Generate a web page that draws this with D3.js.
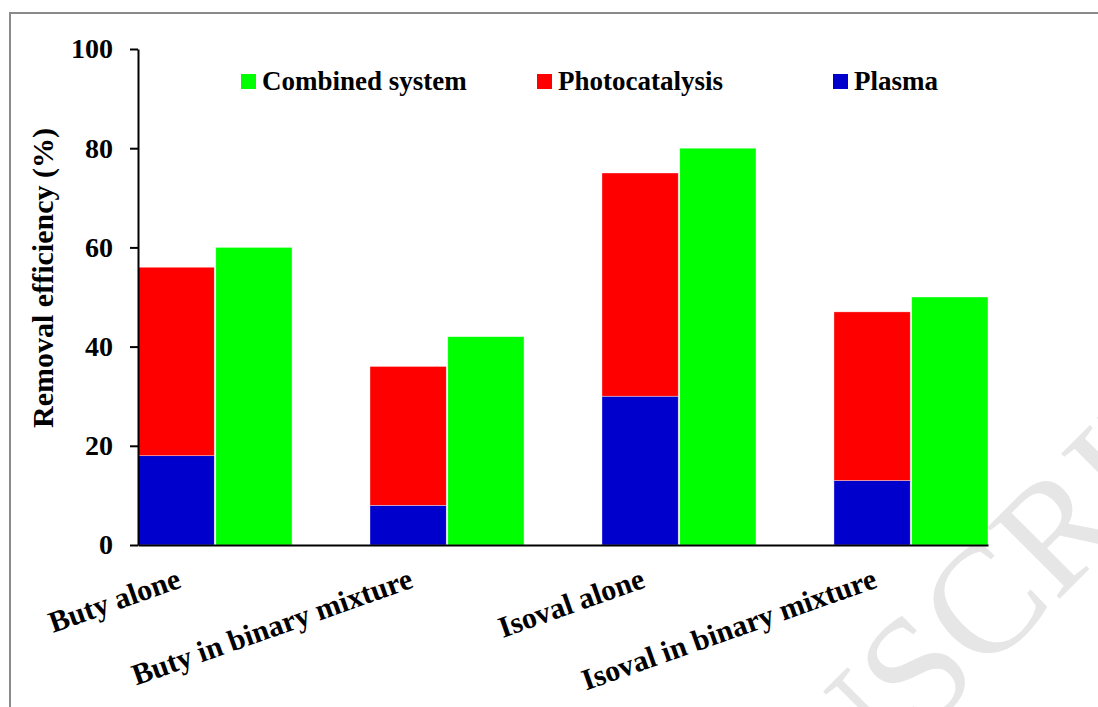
<!DOCTYPE html>
<html>
<head>
<meta charset="utf-8">
<script src="https://cdn.jsdelivr.net/npm/d3@7"></script>
<style>
  html, body { margin: 0; padding: 0; background: #fff; }
  svg { display: block; }
</style>
</head>
<body>
<svg id="chart" width="1098" height="707"></svg>
<script>
// ---- data ----
const categories = ["Buty alone", "Buty in binary mixture", "Isoval alone", "Isoval in binary mixture"];
const plasma = [18, 8, 30, 13];
const photocatalysis = [38, 28, 45, 34];   // segment stacked on top of plasma
const combined = [60, 42, 80, 50];
const yTicks = [0, 20, 40, 60, 80, 100];
const legendNames = ["Combined system", "Photocatalysis", "Plasma"];
const legendColors = ["#00ff00", "#ff0000", "#0000cc"];
const yTitle = "Removal efficiency (%)";
const watermark = "ACCEPTED MANUSCRIPT";

const svg = d3.select("#chart");
const serif = "'Liberation Serif', 'Times New Roman', Times, serif";

// ---- watermark (underneath) ----
{
  const fs = 155;
  const g = svg.append("g");
  const t = g.append("text")
    .text(watermark)
    .attr("font-family", serif)
    .attr("font-size", fs)
    .attr("fill", "#e6e6e6");
  const idx = watermark.indexOf("SCRIPT") + 1;
  const xc = t.node().getStartPositionOfChar(idx).x;
  const a = xc + 0.333 * fs, b = 0.33 * fs;
  const c = Math.SQRT1_2;
  const rx = c * a - c * b, ry = -c * a - c * b;
  const tx = 983 - rx, ty = 603 - ry;
  g.attr("transform", `translate(${tx},${ty}) rotate(-45)`);
}

// ---- frame ----
svg.append("rect")
  .attr("x", 10).attr("y", 13)
  .attr("width", 1200).attr("height", 800)
  .attr("fill", "none")
  .attr("stroke", "#8a8a8a")
  .attr("stroke-width", 2);

// ---- scales ----
const x = d3.scaleBand()
  .domain(categories)
  .range([138, 988])
  .paddingInner(0.336)
  .paddingOuter(0)
  .align(0);

const sub = d3.scaleBand()
  .domain(["stack", "combined"])
  .range([0, x.bandwidth()])
  .paddingInner(0.02);

const y = d3.scaleLinear().domain([0, 100]).range([545, 49]);

// ---- bars ----
const rows = categories.map((c, i) => ({ cat: c, plasma: plasma[i], photo: photocatalysis[i] }));
const stack = d3.stack().keys(["plasma", "photo"])(rows);
const stackColors = { plasma: "#0000cc", photo: "#ff0000" };

const barG = svg.append("g");
stack.forEach(layer => {
  barG.selectAll(null)
    .data(layer)
    .join("rect")
    .attr("x", d => x(d.data.cat) + sub("stack"))
    .attr("width", sub.bandwidth())
    .attr("y", d => y(d[1]))
    .attr("height", d => y(d[0]) - y(d[1]))
    .attr("fill", stackColors[layer.key])
    .attr("stroke", "#ffffff")
    .attr("stroke-opacity", 0.6)
    .attr("stroke-width", 0.6);
});

barG.selectAll(null)
  .data(categories)
  .join("rect")
  .attr("x", (d) => x(d) + sub("combined"))
  .attr("width", sub.bandwidth())
  .attr("y", (d, i) => y(combined[i]))
  .attr("height", (d, i) => y(0) - y(combined[i]))
  .attr("fill", "#00ff00")
  .attr("stroke", "#ffffff")
  .attr("stroke-opacity", 0.6)
  .attr("stroke-width", 0.6);

// ---- y axis ----
const yAxis = svg.append("g")
  .attr("transform", "translate(138,0)")
  .call(d3.axisLeft(y).tickValues(yTicks).tickSize(8).tickPadding(17).tickSizeOuter(0));
yAxis.select(".domain").attr("stroke", "#000").attr("stroke-width", 2);
yAxis.selectAll(".tick line").attr("stroke", "#000").attr("stroke-width", 2);
yAxis.selectAll(".tick text")
  .attr("font-family", serif)
  .attr("font-weight", "bold")
  .attr("font-size", 28)
  .attr("fill", "#000");

// ---- x axis ----
const xAxis = svg.append("g")
  .attr("transform", "translate(0,545)")
  .call(d3.axisBottom(x).tickSize(0).tickSizeOuter(0).tickFormat(""));
xAxis.select(".domain").attr("stroke", "#000").attr("stroke-width", 2);

svg.append("g").selectAll("text")
  .data(categories)
  .join("text")
  .attr("transform", d => `translate(${x(d) + x.bandwidth() / 2 - 32.5},587) rotate(-19.5)`)
  .attr("text-anchor", "end")
  .attr("font-family", serif)
  .attr("font-weight", "bold")
  .attr("font-size", 30)
  .attr("fill", "#000")
  .text(d => d);

// ---- y title ----
svg.append("text")
  .attr("transform", "translate(53,278) rotate(-90)")
  .attr("text-anchor", "middle")
  .attr("font-family", serif)
  .attr("font-weight", "bold")
  .attr("font-size", 30)
  .attr("fill", "#000")
  .text(yTitle);

// ---- legend ----
const leg = svg.append("g").selectAll("g")
  .data(legendNames)
  .join("g")
  .attr("transform", (d, i) => `translate(${241 + i * 296},74)`);
leg.append("rect")
  .attr("width", 15).attr("height", 15)
  .attr("fill", (d, i) => legendColors[i]);
leg.append("text")
  .attr("x", 21).attr("y", 16)
  .attr("font-family", serif)
  .attr("font-weight", "bold")
  .attr("font-size", 27)
  .attr("fill", "#000")
  .text(d => d);
</script>
</body>
</html>
